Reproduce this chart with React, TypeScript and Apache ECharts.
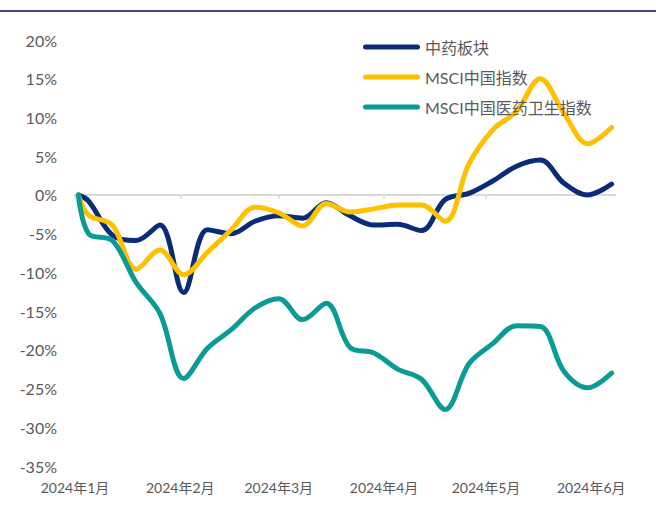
import React, { useEffect, useRef } from "react";
import * as echarts from "echarts";

const dates = [
  "2024-01-02", "2024-01-05", "2024-01-12", "2024-01-19", "2024-01-26",
  "2024-02-02", "2024-02-09", "2024-02-16", "2024-02-23", "2024-03-01",
  "2024-03-08", "2024-03-15", "2024-03-22", "2024-03-29", "2024-04-05",
  "2024-04-12", "2024-04-19", "2024-04-26", "2024-05-03", "2024-05-10",
  "2024-05-17", "2024-05-24", "2024-05-31", "2024-06-07",
];

const tcmSector = [0, -0.8, -5.2, -5.9, -3.9, -12.6, -4.5, -5.0, -3.4, -2.7, -3.0, -1.0, -2.7, -3.9, -3.8, -4.6, -0.6, 0.2, 1.8, 3.7, 4.5, 1.5, 0.0, 1.4];
const msciChina = [0, -2.6, -3.9, -9.6, -7.1, -10.3, -7.4, -4.5, -1.6, -2.3, -4.0, -1.1, -2.2, -1.8, -1.3, -1.3, -3.4, 4.0, 8.4, 10.8, 15.0, 10.5, 6.6, 8.7];
const msciChinaHealth = [0, -5.0, -5.9, -11.3, -15.3, -23.7, -19.8, -17.4, -14.6, -13.4, -16.1, -14.0, -19.7, -20.4, -22.5, -23.8, -27.7, -21.8, -19.2, -16.9, -17.0, -22.8, -24.9, -23.0];

const seriesNames = ["中药板块", "MSCI中国指数", "MSCI中国医药卫生指数"];
const monthStarts = ["2024-01-01", "2024-02-01", "2024-03-01", "2024-04-01", "2024-05-01", "2024-06-01"];
const monthLabels = ["2024年1月", "2024年2月", "2024年3月", "2024年4月", "2024年5月", "2024年6月"];
const axisStart = "2024-01-01";
const axisEnd = "2024-06-08";

const yMin = -35;
const yMax = 20;
const yStep = 5;

const dayOf = (s: string) => {
  const [y, m, d] = s.split("-").map(Number);
  const [y0, m0, d0] = axisStart.split("-").map(Number);
  return Math.round((Date.UTC(y, m - 1, d) - Date.UTC(y0, m0 - 1, d0)) / 86400000);
};

const FONT = "Lato, 'Noto Sans CJK SC', sans-serif";

export default function App() {
  const ref = useRef<HTMLDivElement>(null);
  useEffect(() => {
    document.body.style.margin = "0";
    if (!ref.current) return;
    const chart = echarts.init(ref.current, undefined, { renderer: "svg" });
    const xs = dates.map(dayOf);
    const monthDays = monthStarts.map(dayOf);
    const mk = (vals: number[]) => vals.map((v, i) => [xs[i], v]);
    const colors = ["#0A2C78", "#FFC000", "#0B9B97"];
    const capsule = "path://M2.5,0H54.5A2.5,2.5,0,0,1,54.5,5H2.5A2.5,2.5,0,0,1,2.5,0Z";
    chart.setOption({
      animation: false,
      graphic: [
        {
          type: "line",
          shape: { x1: 0, y1: 11, x2: 656, y2: 11 },
          style: { stroke: "#4A4387", lineWidth: 2 },
        },
      ],
      grid: { left: 75, right: 41, top: 40, bottom: 63 },
      legend: {
        orient: "vertical",
        left: 358,
        top: 34,
        itemWidth: 57,
        itemHeight: 5,
        itemGap: 14,
        icon: capsule,
        data: seriesNames,
        textStyle: { color: "#595959", fontSize: 16, fontFamily: FONT },
      },
      xAxis: [
        {
          type: "value",
          position: "bottom",
          min: dayOf(axisStart),
          max: dayOf(axisEnd),
          axisLine: { show: false, onZero: false },
          axisTick: { show: false },
          splitLine: { show: false },
          axisLabel: {
            customValues: monthDays,
            formatter: (v: number) => {
              const i = monthDays.indexOf(Math.round(v));
              return i >= 0 ? monthLabels[i] : "";
            },
            color: "#595959",
            fontSize: 14,
            fontFamily: FONT,
            margin: 14,
            showMinLabel: true,
            showMaxLabel: true,
          },
        },
        {
          type: "value",
          position: "top",
          min: dayOf(axisStart),
          max: dayOf(axisEnd),
          axisLine: { show: true, onZero: true, lineStyle: { color: "#D9D9D9", width: 2 } },
          axisTick: {
            show: true,
            inside: true,
            length: 4,
            customValues: monthDays,
            lineStyle: { color: "#D9D9D9", width: 1.5 },
          },
          splitLine: { show: false },
          axisLabel: { show: false },
        },
      ],
      yAxis: {
        type: "value",
        min: yMin,
        max: yMax,
        interval: yStep,
        axisLine: { show: false },
        axisTick: { show: false },
        splitLine: { show: false },
        axisLabel: {
          formatter: (v: number) => `${v}%`,
          color: "#595959",
          fontSize: 16,
          fontFamily: FONT,
          margin: 18,
        },
      },
      series: [tcmSector, msciChina, msciChinaHealth].map((vals, i) => ({
        name: seriesNames[i],
        type: "line",
        xAxisIndex: 0,
        data: mk(vals),
        smooth: 0.35,
        showSymbol: false,
        symbol: "none",
        color: colors[i],
        lineStyle: { color: colors[i], width: 5, cap: "round", join: "round" },
      })),
    });
    return () => chart.dispose();
  }, []);
  return <div ref={ref} style={{ width: 656, height: 529 }} />;
}
